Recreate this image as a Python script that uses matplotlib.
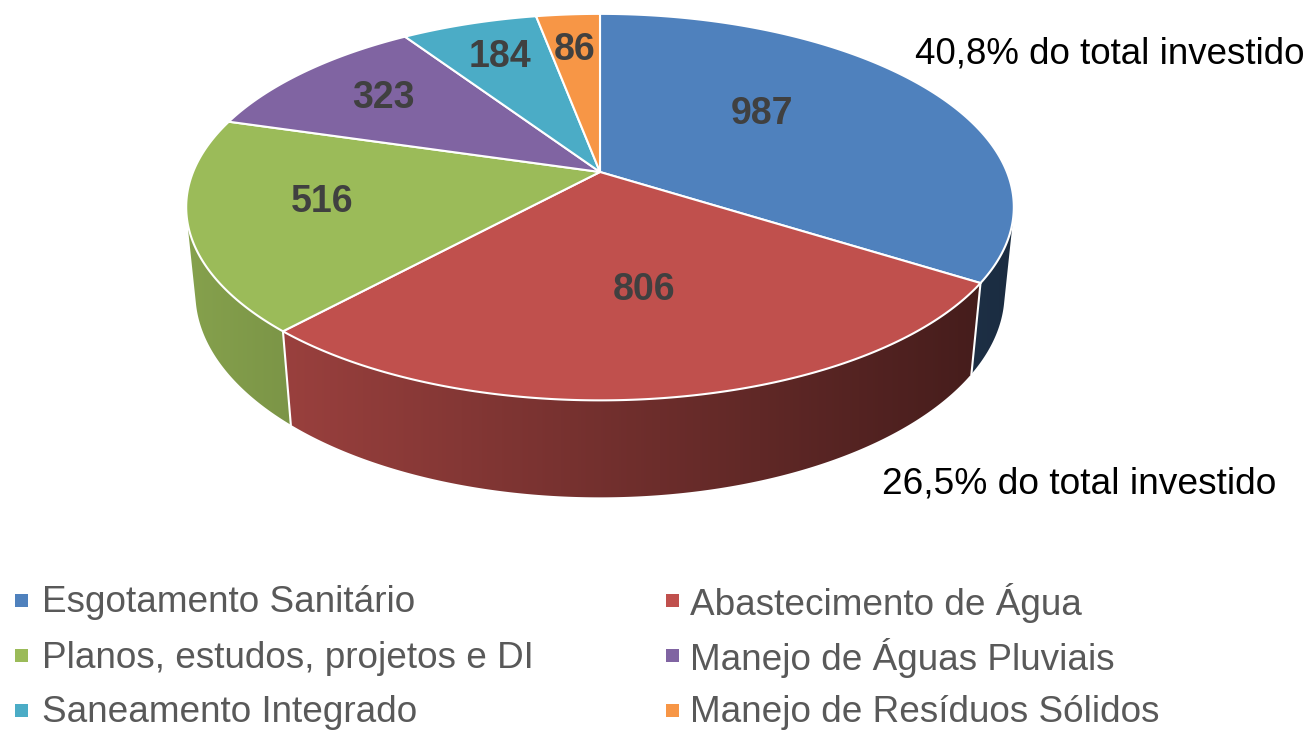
import numpy as np
import matplotlib
matplotlib.use("Agg")
import matplotlib.pyplot as plt
from matplotlib.patches import Polygon, Rectangle
from matplotlib.colors import to_rgb

# ---------------- data ----------------
categories = ["Esgotamento Sanitário", "Abastecimento de Água",
              "Planos, estudos, projetos e DI", "Manejo de Águas Pluviais",
              "Saneamento Integrado", "Manejo de Resíduos Sólidos"]
values = [987, 806, 516, 323, 184, 86]
colors = ["#4F81BD", "#C0504D", "#9BBB59", "#8064A2", "#4BACC6", "#F79646"]
annotations = ["40,8% do total investido", "26,5% do total investido"]

# ---------------- layout / projection parameters ----------------
W, H = 1314, 730
CX, CY = 600, 172
ELEV = np.radians(27.1)
DIST = 4.90
FOC = 2010
KX = 0.992
THICK = 0.237
SE, CE = np.sin(ELEV), np.cos(ELEV)

label_r = [0.55, 0.56, 0.68, 0.73, 0.77, 0.77]
label_dth = [-11.0, -2.4, 3.6, 1.5, 1.0, 0.0]
LABEL_FS = 27


def project(x, y, z):
    w = DIST + y * CE - z * SE
    return CX + KX * FOC * x / w, CY - FOC * (y * SE + z * CE) / w


def rim(th_deg, z, r=1.0):
    t = np.radians(th_deg)
    return project(r * np.sin(t), r * np.cos(t), z)


fig = plt.figure(figsize=(W / 100, H / 100), dpi=100)
ax = fig.add_axes([0, 0, 1, 1])
ax.set_xlim(0, W)
ax.set_ylim(H, 0)
ax.axis("off")

vals = np.array(values, dtype=float)
cum = np.concatenate([[0], np.cumsum(vals)]) / vals.sum() * 360.0

# visible wall range
vis_lo = np.degrees(np.arccos(-1.0 / (DIST * CE)))
vis_hi = 360.0 - vis_lo

xl, _ = rim(255, 0)
xr, _ = rim(vis_lo, 0)
f_left, f_right = 0.86, 0.34

# ---------------- side walls ----------------
for i, col in enumerate(colors):
    a, b = max(cum[i], vis_lo), min(cum[i + 1], vis_hi)
    if b <= a:
        continue
    th = np.linspace(a, b, 200)
    tx, ty = rim(th, 0)
    bx, by = rim(th[::-1], -THICK)
    pts = np.column_stack([np.concatenate([tx, bx]), np.concatenate([ty, by])])
    poly = Polygon(pts, closed=True, facecolor="none", edgecolor="none")
    ax.add_patch(poly)
    base = np.array(to_rgb(col))
    grad = np.linspace(f_left, f_right, 512)
    img = np.clip(base[None, None, :] * grad[None, :, None], 0, 1)
    im = ax.imshow(img, extent=(xl, xr, 560, 0), aspect="auto",
                   interpolation="bilinear", zorder=1)
    im.set_clip_path(poly)

# white boundary lines on the wall
for t in cum[1:-1]:
    if vis_lo < t < vis_hi:
        x0, y0 = rim(t, 0)
        x1, y1 = rim(t, -THICK)
        ax.plot([x0, x1], [y0, y1], color="white", lw=1.5, zorder=1.5)

ax.set_xlim(0, W)
ax.set_ylim(H, 0)

# ---------------- top faces ----------------
for i, col in enumerate(colors):
    th = np.linspace(cum[i], cum[i + 1], 200)
    tx, ty = rim(th, 0)
    pts = np.column_stack([np.concatenate([[CX], tx]), np.concatenate([[CY], ty])])
    ax.add_patch(Polygon(pts, closed=True, facecolor=col, edgecolor="white",
                         lw=1.5, joinstyle="round", zorder=2))

# ---------------- value labels ----------------
cap_half = LABEL_FS * 100 / 72 * 0.716 / 2
for i, v in enumerate(values):
    mid = (cum[i] + cum[i + 1]) / 2 + label_dth[i]
    lx, ly = rim(mid, 0, label_r[i])
    ax.text(lx, ly + cap_half, f"{v}", ha="center", va="baseline", fontsize=LABEL_FS,
            fontweight="bold", color="#404040", family="Liberation Sans", zorder=3)

# ---------------- annotations ----------------
ax.text(915, 54, annotations[0], ha="left", va="center", fontsize=26.5,
        color="black", family="Liberation Sans")
ax.text(882, 484, annotations[1], ha="left", va="center", fontsize=26.7,
        color="black", family="Liberation Sans")

# ---------------- legend ----------------
order_pos = [(0, 0), (1, 0), (0, 1), (1, 1), (0, 2), (1, 2)]
marker_x = [15, 666]
text_x = [42, 690]
row_y = [603, 658, 713]
for i, (c, r) in enumerate(order_pos):
    my = row_y[r]
    ax.add_patch(Rectangle((marker_x[c], my - 9), 13, 13, facecolor=colors[i],
                           edgecolor="none"))
    ax.text(text_x[c], my, categories[i], ha="left", va="center", fontsize=26.6,
            color="#595959", family="Liberation Sans")

fig.savefig("out.png", dpi=100)
